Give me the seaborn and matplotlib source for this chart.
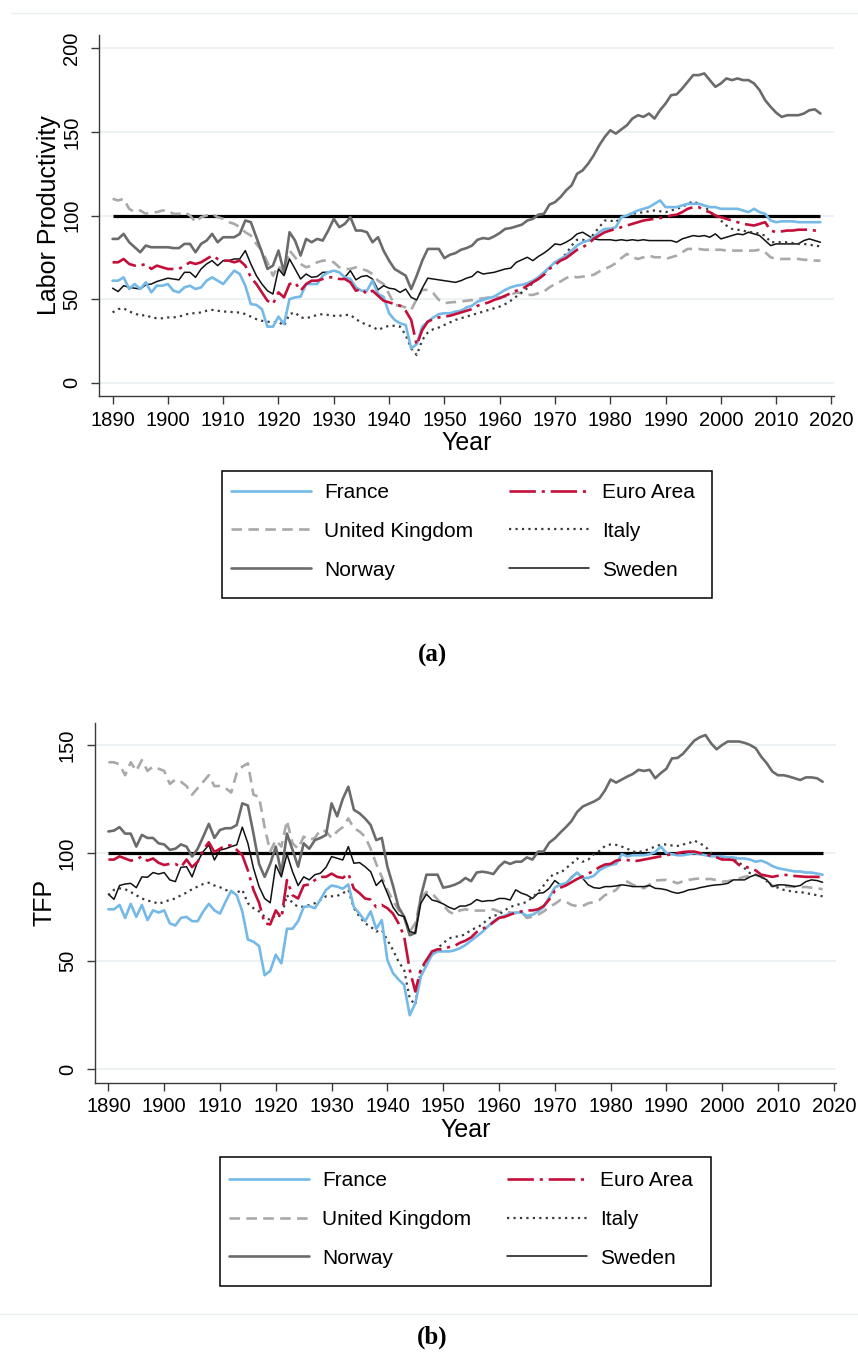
import numpy as np
import pandas as pd
import matplotlib
matplotlib.use("Agg")
import matplotlib.pyplot as plt
from matplotlib.patches import Rectangle
from matplotlib.lines import Line2D
import seaborn as sns

years = list(range(1890, 2019))

# ---------------- Panel (a): Labor productivity ----------------
lp_france = [61, 61, 63, 56, 59, 56, 60, 54, 58, 58,
             59, 55, 54, 57, 58, 56, 57, 61, 63, 61,
             59, 63, 67, 65, 58, 47, 46.5, 44, 33.5, 33.5,
             39.5, 35, 50, 51, 51.5, 59, 59, 59, 64, 66,
             67, 66, 63, 62, 57, 55, 55, 61, 53, 51.4,
             41.5, 37.5, 35.5, 34.5, 20.5, 23, 33.5, 36.5, 39, 41,
             41.5, 41.5, 42.5, 43, 45, 46, 48.5, 49.5, 50.5, 51.5,
             53.5, 55.5, 57, 58, 58.5, 59.5, 61, 63, 66, 69,
             72, 74, 76, 79, 82, 84, 85, 87, 90, 92,
             92, 93, 99, 100, 101.5, 103, 104, 105, 107, 109,
             105, 105, 105, 106, 107, 107, 107, 106, 105, 105,
             104, 104, 104, 104, 103, 102, 104, 102, 101, 97,
             96, 96.5, 96.5, 96.5, 96, 96, 96, 96, 96]
lp_euro = [72, 72, 74, 71, 70, 70, 71, 68, 70, 69,
           68, 68, 68, 70, 72, 71, 72, 74, 76, 74,
           73, 73, 72, 73, 70, 63, 59, 54, 49, 47,
           54, 51, 59, 60, 55, 59, 61, 61, 62, 63,
           63, 62, 62, 60, 55, 56, 53, 55, 52, 49,
           48, 47, 46, 43, 37.5, 22.5, 31.5, 36.5, 38, 39,
           39.5, 40, 41, 42, 43, 44, 46, 47, 48, 49.5,
           50.5, 52, 53.5, 55, 56, 58, 60, 62, 64.5, 68,
           70.5, 73, 74.5, 77, 79.5, 81, 83, 86, 88, 90,
           91, 92, 93, 94, 95, 96, 97, 97.5, 98, 98.5,
           99, 100, 100.5, 102, 104, 105, 105, 103, 102, 100,
           99, 98, 97, 96, 95, 94.5, 94, 95, 96, 91,
           90, 90.5, 91, 91, 91.5, 91.5, 91.5, 91, 91]
lp_italy = [42, 44, 44.5, 42.5, 41.5, 40, 40.5, 39, 38.5, 38.5,
            39, 39, 39.5, 40.5, 41.5, 41.5, 42, 43, 43.5, 43,
            42.5, 42.5, 42, 42, 41, 39.5, 38, 37, 36.5, 36,
            36.5, 34, 41, 42, 39, 38.5, 39.5, 40.5, 41, 40.5,
            40, 40, 40.5, 40.5, 38, 36, 34.5, 33.5, 31.5, 33,
            34, 34, 33.5, 28.5, 20.5, 16.5, 25.5, 30, 32, 33,
            34.5, 36, 37.5, 38.5, 39.5, 40.5, 41.5, 42.5, 43.5, 44.5,
            45.5, 47, 49, 51.5, 54, 56.5, 59.5, 62.5, 65.5, 68.5,
            72, 74, 77, 82, 85.5, 85.5, 84.5, 89, 93, 97,
            97, 96, 99, 100, 101, 101.5, 102, 102.5, 103, 102.5,
            102, 103, 104, 105, 107, 108.5, 107, 106, 102, 100,
            97, 94, 92, 91.5, 91, 90, 90, 89, 88, 84,
            84, 84, 84, 83.5, 83, 83, 82.5, 82, 81.5]
lp_sweden = [56.5, 54.5, 58, 57, 56.5, 56, 58.5, 59, 60.5, 61.5,
             62.5, 62, 61.5, 66, 66, 63, 68, 71, 73, 70,
             73, 73, 74, 74, 79, 71, 64, 59, 55, 53,
             68, 64, 74, 68, 62, 65, 63, 63.5, 66, 66,
             67, 66, 63, 67, 61.5, 63.5, 64, 62, 55.5, 58,
             56.5, 56, 54, 56, 51, 49.5, 56.5, 62.5, 62, 61.5,
             61, 60.5, 60, 61, 62.5, 63.5, 66.5, 65, 65.5, 66,
             67, 68, 68.5, 72, 73.5, 75, 73, 75.5, 77.5, 80,
             83, 82.5, 84, 86, 89, 90, 88, 86, 85.5, 85.5,
             85.5, 85, 85.5, 85, 85.5, 85, 85.5, 85, 85, 85,
             85, 85, 84, 86, 87, 88, 87.5, 88, 87, 89,
             86, 87, 88, 89, 88.5, 90, 89, 88, 85, 82,
             83, 83, 83, 83, 83, 85, 86, 85, 84]
lp_uk = [110, 109, 110, 104, 102, 103, 101, 102, 102, 103,
         103, 101, 101, 102, 100, 96, 99, 100, 101, 99,
         98, 96, 95, 93, 90, 88, 83, 79, 72, 64,
         70, 65, 79, 75, 71, 69, 70, 72, 73, 73,
         72, 69, 68, 68, 69, 68, 67, 65, 61, 59,
         53, 46.5, 46, 45, 43.5, 50, 55.5, 55.5, 53.5, 49.5,
         47.5, 48, 48.2, 48.5, 49, 49.4, 50, 50.4, 51, 51,
         51, 51.5, 52.5, 54, 53.5, 52.5, 52.5, 53.5, 54.5, 57,
         59, 60.5, 62.5, 63.8, 63, 63.4, 64, 64.5, 66.5, 68,
         69.5, 71.5, 74.5, 77, 75, 74, 75, 76, 75, 75,
         74, 75, 76, 78, 80, 80, 80, 79.5, 79.5, 79.5,
         79.5, 79, 79, 79, 79, 79, 79, 79.5, 78, 75,
         74, 74, 74, 74, 74, 73.5, 73.5, 73, 73]
lp_norway = [86, 86, 89, 84, 81, 78, 82, 81, 81, 81,
             81, 80.5, 80.5, 83, 83, 78, 83, 85, 89, 84,
             87, 87, 87, 89, 97, 96, 87, 78, 68, 70,
             79, 66, 90, 85, 76, 86, 84, 86, 85, 91,
             98, 93, 95, 99, 91, 91, 90, 84, 87, 79,
             73, 68, 66, 64, 56, 64, 73, 80, 80, 80,
             74.5, 76.5, 77.5, 79.5, 80.5, 82, 85.5, 86.5, 86, 87.5,
             89.5, 92, 92.5, 93.5, 94.5, 97, 98, 100.5, 101, 106.5,
             108, 111, 115, 118, 125, 127, 131, 136, 142, 147,
             151, 149, 151.5, 154, 158, 160, 159, 161, 158, 163,
             167, 172, 172.5, 176, 180, 184, 184, 185, 181, 177,
             179, 182, 181, 182, 181, 181, 179, 175, 169, 165,
             161.5, 159, 160, 160, 160, 161, 163, 163.5, 161]

# ---------------- Panel (b): TFP ----------------
tfp_france = [74, 74, 76, 70, 76.5, 70.5, 76, 69, 73.5, 72.5,
              73.5, 67.5, 66.5, 70, 70.5, 68.5, 68.5, 73, 76.5, 73.5,
              72, 77.5, 82.5, 80.5, 73, 60, 59, 57, 43.5, 45.5,
              53, 49, 65, 65, 68.5, 75, 75.5, 74.5, 78.5, 83,
              85, 84.5, 83.5, 85.5, 75, 72, 68.5, 73, 65, 69,
              50.5, 44.5, 41.5, 39, 25, 30.5, 43, 48, 53, 54.5,
              54.5, 54.5, 55, 56, 57.5, 59.5, 61.5, 63.5, 66, 68.5,
              70, 71, 72, 72.5, 72.5, 71, 71.5, 73, 75, 79.5,
              84, 85.5, 86, 88.5, 91, 88.5, 88.5, 89.5, 92, 93.5,
              94.5, 95, 99.5, 98.5, 99, 99, 99, 99.5, 100.5, 103,
              100, 99.5, 99, 99, 99.5, 100, 99.5, 99, 98.5, 98.5,
              98.5, 98, 98, 97.5, 97.5, 97, 96, 96.5, 95.5, 94,
              93, 92.5, 92, 91.5, 91.5, 91, 91, 90.5, 90]
tfp_euro = [97, 97, 98.5, 97.5, 96.5, 97, 98.5, 96.5, 97.5, 95.5,
            94.5, 95, 95, 93.5, 97, 93.5, 96, 101.5, 105, 100.5,
            102, 103.5, 103.5, 101.5, 99, 92, 83, 77, 67.5, 67,
            73.5, 70, 87.5, 80.5, 79, 85, 85.5, 87.5, 89, 89,
            90.5, 89, 88.5, 90.5, 83.5, 81.5, 79, 78.5, 75, 76,
            74.5, 72, 67.5, 61.5, 46, 36, 46.5, 50.5, 54.5, 55.5,
            55.5, 56.5, 57, 58.5, 59.5, 61, 63.5, 65, 66, 68,
            70, 70.5, 71.5, 72.5, 73, 73.5, 73.5, 74, 75.5, 78.5,
            82.5, 84, 85, 86.5, 88, 89.2, 90.5, 91.8, 93.5, 94.7,
            95, 96.5, 97, 96.8, 96.2, 96.5, 97, 97.5, 98, 98.5,
            99, 99.5, 100, 100.5, 100.7, 100.7, 100, 99.5, 98.7, 98,
            97, 97, 96.8, 94.5, 93.8, 93, 92, 90, 89.5, 89,
            89.5, 90, 89.7, 89.4, 89.2, 89, 89, 89, 88.8]
tfp_italy = [80.5, 83, 83.7, 83.3, 82, 80.5, 79, 78, 77.5, 76.5,
             77.5, 78.3, 79, 80.5, 81.7, 83.3, 84.5, 85.7, 86.3, 85,
             84.2, 83, 82, 81.7, 83, 76.8, 74.5, 73, 70.6, 69,
             71.4, 70.6, 80.6, 76.8, 75.2, 75.2, 76, 76.8, 78.3, 80,
             80, 80.2, 81.4, 83, 74.5, 70.6, 67.5, 66, 63.7, 64.4,
             59.8, 55.2, 49.8, 46, 32.8, 29.8, 46, 49.8, 53, 56,
             58.3, 60.5, 61.3, 61.5, 62.5, 64.5, 65.5, 67, 69.5, 71,
             71.5, 73.5, 75, 76, 76.5, 77.5, 79.5, 82, 85, 88.5,
             90.7, 90.7, 93, 95, 97.5, 96, 97, 99.5, 101, 103.3,
             104, 103.8, 103, 102, 100.7, 100.5, 101, 102, 103, 104,
             104, 103.5, 103.3, 104, 104.5, 105.8, 104.5, 103, 100, 98.4,
             98, 97.5, 97, 96, 93, 90.7, 90, 89, 87, 84.5,
             84, 83, 82.5, 82, 82, 81.5, 81, 80.5, 80]
tfp_sweden = [81, 78.6, 85, 85.7, 86, 84, 89, 88.8, 91, 90.3,
              91, 87.6, 86.8, 93.4, 93.7, 89, 96, 100.7, 103.8, 96.8,
              101.4, 102, 103, 103.8, 112, 104.5, 93, 84.5, 79, 77,
              94.5, 89, 99.6, 91.4, 85, 89, 87.6, 90, 90.7, 93.4,
              98.4, 97.6, 96.8, 103, 95.3, 95.6, 93.7, 91.4, 85, 87.6,
              81.4, 75, 71.4, 70.6, 63.7, 63, 76.8, 81, 78.3, 77.6,
              76.5, 75, 74, 75.5, 75.5, 76.5, 78.5, 77.6, 78, 78,
              79, 79, 78.3, 83, 81.5, 80.6, 79, 81.4, 81.7, 83.7,
              87.3, 85.3, 86, 89, 91, 88.3, 85.3, 84, 83.7, 84.5,
              84.5, 84.8, 85.3, 85, 84.5, 84.5, 84.5, 85, 83.7, 83.5,
              83, 82, 81.4, 82, 83, 83.3, 84, 84.5, 85, 85.3,
              85.5, 86, 87.6, 87.6, 87.6, 89, 90, 89, 87.6, 84.5,
              85.3, 85.3, 85, 84.5, 85, 86.8, 87.6, 87.3, 86.5]
tfp_uk = [142, 142, 141, 136, 142, 138, 143, 138, 140, 139,
          138, 132, 134, 133, 131, 127, 130, 133, 136, 131,
          131, 130, 128, 137, 140, 141.5, 127, 126, 112, 100.7,
          106, 103, 115, 104.5, 102, 107.6, 106, 107, 110.7, 110,
          107, 110, 112, 116, 111.5, 110, 107.6, 102, 95, 89,
          83, 78, 73.7, 70.6, 63.7, 67.5, 79, 82, 81.4, 78.5,
          76, 73, 71.7, 73.5, 74, 73.4, 73.4, 73.4, 73.4, 74,
          72.9, 72.9, 72.5, 72.2, 72.9, 70, 70.6, 71.5, 73, 75,
          76.5, 78.3, 77.5, 76, 75.5, 75.5, 76.8, 77.3, 78.3, 80.6,
          81.5, 83, 86, 86.8, 85.3, 84.5, 83.7, 85.5, 87.3, 87.5,
          87.6, 87, 86, 87, 87.6, 88, 88.3, 88, 88, 87.5,
          86.8, 87, 87.6, 88.3, 89, 89.5, 90, 89, 87.6, 84.8,
          84.8, 84.7, 84.5, 84.5, 84.3, 84.3, 84, 83.7, 83.3]
tfp_norway = [110, 110.4, 112, 109, 109, 103, 108.4, 107, 107, 104.5,
              104, 101.5, 102, 104, 103, 98.4, 102, 107.6, 113.5, 107,
              110.7, 111.5, 111.5, 113, 123, 122, 109, 95, 89, 95,
              103, 90.7, 109, 101.5, 93.7, 104.5, 102, 106, 107, 108.4,
              123, 117, 125, 130.7, 120, 118.4, 116, 113, 106, 107,
              93.7, 85, 75, 70.6, 62, 63, 80, 90, 90, 90,
              84, 84.5, 85.3, 86.5, 88.5, 87, 91, 91.4, 91, 90.3,
              93.7, 96, 95, 96, 96, 98, 97, 100.7, 100.7, 104.8,
              106.8, 109.5, 112, 114.8, 119, 121.5, 122.7, 123.8, 125.3, 129,
              134, 132.6, 134, 135.4, 136.6, 138.5, 138, 138.5, 134.6, 137,
              139, 143.8, 144, 146, 149, 152, 153.6, 154.6, 150.8, 148,
              150, 151.6, 151.6, 151.6, 151, 150, 148.5, 144.6, 141.5, 137.7,
              136, 136, 135.4, 134.6, 133.8, 135, 135, 134.6, 133]

countries = ["France", "United Kingdom", "Norway", "Euro Area", "Italy", "Sweden"]
x_ticks = list(range(1890, 2021, 10))
lp_ticks = [0, 50, 100, 150, 200]
tfp_ticks = [0, 50, 100, 150]

styles = {
    "France": dict(color="#74b9e7", lw=1.9, ls="-"),
    "United Kingdom": dict(color="#a9a9a9", lw=1.9, ls=(0, (4, 2.4))),
    "Norway": dict(color="#6b6b6b", lw=1.9, ls="-"),
    "Euro Area": dict(color="#c40f3a", lw=1.9, ls=(0, (10, 2.2, 1.2, 2.2))),
    "Italy": dict(color="#3a3a3a", lw=1.6, ls=(0, (1.0, 1.9))),
    "Sweden": dict(color="#111111", lw=1.1, ls="-"),
}
draw_order = ["United Kingdom", "Norway", "Sweden", "Italy", "France", "Euro Area"]

sns.set_style("ticks")
plt.rcParams["font.family"] = ["Liberation Sans", "DejaVu Sans"]
plt.rcParams["text.color"] = "black"
plt.rcParams["axes.labelcolor"] = "black"

W, H = 858, 1353
fig = plt.figure(figsize=(W / 100, H / 100), dpi=100)
fig.patch.set_facecolor("white")


def make_panel(rect, data, ylim, yticks, ylabel, leg_xy, box, sub, sub_y):
    ax = fig.add_axes(rect)
    ax.set_facecolor("white")
    for yt in yticks:
        ax.axhline(yt, color="#eaf1f3", lw=1.3, zorder=0)
    ax.hlines(100, years[0], years[-1], color="black", lw=2.3, zorder=1)
    for name in draw_order:
        st = styles[name]
        df = pd.DataFrame({"Year": years, "v": data[name]})
        sns.lineplot(data=df, x="Year", y="v", ax=ax, color=st["color"],
                     linewidth=st["lw"], linestyle=st["ls"], label=name,
                     legend=False, zorder=2)
    ax.set_xlim(1887.6, 2020.4)
    ax.set_ylim(*ylim)
    ax.set_xticks(x_ticks)
    ax.set_yticks(yticks)
    for s in ["top", "right"]:
        ax.spines[s].set_visible(False)
    for s in ["left", "bottom"]:
        ax.spines[s].set_color("#3a3a3a")
        ax.spines[s].set_linewidth(1.0)
    ax.tick_params(axis="both", direction="out", length=6, width=1.0,
                   color="#3a3a3a", labelsize=14.5, labelcolor="black")
    ax.tick_params(axis="x", pad=4.5)
    ax.tick_params(axis="y", pad=7)
    plt.setp(ax.get_yticklabels(), rotation=90, va="center", ha="right")
    ax.set_xlabel("Year", fontsize=18, labelpad=1, color="black")
    ax.set_ylabel(ylabel, fontsize=18, labelpad=1, color="black")

    handles = []
    for name in countries:
        st = styles[name]
        handles.append(Line2D([0], [0], color=st["color"], lw=st["lw"], ls=st["ls"]))
    leg = ax.legend(handles, countries, ncol=2, frameon=False, fontsize=15,
                    loc="upper left", bbox_to_anchor=leg_xy, bbox_transform=fig.transFigure,
                    borderaxespad=0, borderpad=0, handlelength=3.85, handletextpad=0.63,
                    columnspacing=1.7, labelspacing=0.95)
    for t in leg.get_texts():
        t.set_color("black")
    x0, y0, x1, y1 = box
    fig.patches.append(Rectangle((x0 / W, 1 - y1 / H), (x1 - x0) / W, (y1 - y0) / H,
                                 transform=fig.transFigure, fill=False,
                                 edgecolor="black", lw=1.1))
    fig.text(432 / W, 1 - sub_y / H, sub, ha="center", va="center", color="black",
             fontsize=18, fontweight="bold", family=["Liberation Serif", "DejaVu Serif"])
    return ax


lp = {"France": lp_france, "United Kingdom": lp_uk, "Norway": lp_norway,
      "Euro Area": lp_euro, "Italy": lp_italy, "Sweden": lp_sweden}
tfp = {"France": tfp_france, "United Kingdom": tfp_uk, "Norway": tfp_norway,
       "Euro Area": tfp_euro, "Italy": tfp_italy, "Sweden": tfp_sweden}

make_panel([99.3 / W, 1 - 396 / H, 734.4 / W, 361 / H], lp, (-8, 208), lp_ticks,
           "Labor Productivity", (231 / W, 1 - 483 / H), (222, 471, 712, 598), "(a)", 655)
make_panel([95 / W, 1 - 1082.7 / H, 741 / W, 360 / H], tfp, (-6.2, 160.3), tfp_ticks,
           "TFP", (229 / W, 1 - 1171 / H), (220, 1157, 711, 1286), "(b)", 1337)

# thin separator rules
fig.add_artist(Line2D([11 / W, 1], [1 - 13 / H, 1 - 13 / H], color="#e9eef0", lw=1.0,
                      transform=fig.transFigure))
fig.add_artist(Line2D([0, 1], [1 - 1314 / H, 1 - 1314 / H], color="#e9eef0", lw=1.0,
                      transform=fig.transFigure))

fig.savefig("out.png", dpi=100, facecolor="white")
